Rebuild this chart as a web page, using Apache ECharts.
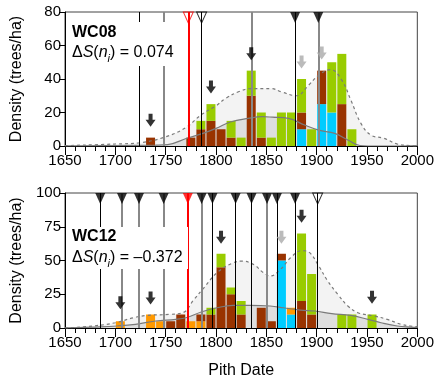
<!DOCTYPE html>
<html><head><meta charset="utf-8">
<script src="https://cdn.jsdelivr.net/npm/echarts@6/dist/echarts.min.js"></script>
<style>html,body{margin:0;padding:0;background:#fff}#c{width:437px;height:381px}</style>
</head><body><div id="c"></div>
<script>
// ---------- DATA ----------
const decades = [1700,1710,1720,1730,1740,1750,1760,1770,1780,1790,1800,1810,1820,1830,1840,1850,1860,1870,1880,1890,1900,1910,1920,1930,1940,1950];
const xTicks = [1650,1700,1750,1800,1850,1900,1950,2000];

// WC08 (top)
const wc08Cyan   = [0,0,0,0,0,0,0,0,0,0,0,0,0,0,0,0,0,0,10,0,25,20,0,0,0,0];
const wc08Orange = [0,0,0,0,0,0,0,0,0,0,0,0,0,0,0,0,0,0,0,0,0,0,0,0,0,0];
const wc08Brown  = [0,0,0,5,0,0,0,5,10,15,10,5,0,30,5,0,0,0,10,0,20,0,25,0,0,0];
const wc08Green  = [0,0,0,0,0,0,0,0,5,10,0,10,5,15,15,5,20,20,20,10,0,30,30,10,0,0];
const wc08DashX = [1650,1700,1725,1750,1770,1785,1800,1810,1823,1835,1855,1865,1880,1892,1902,1914,1925,1934,1944,1954,1967,1980,1993,2000];
const wc08DashY = [0.2,1.2,2.0,5.5,11,18.5,24,28.6,32.5,34.3,34.3,32.3,30,36.3,42.3,45.6,39.3,27.4,13.5,6.5,4.6,1.2,0.2,0];
const wc08SolidX = [1650,1700,1740,1752,1771,1787,1800,1815,1832,1846,1856,1872,1888,1902,1918,1931,1943,1960,2000];
const wc08SolidY = [0,0.3,0.5,0.8,4.6,7.5,10.5,14.5,16.5,17.5,17.2,16.5,12.5,9.5,7.5,3.6,0.3,0,0];
const wc08Events = [1723.6,1748,1772.5,1785.7,1836,1878.6,1901.6];
const wc08EventLine = ['black','grey','red','black','grey','black','grey'];
const wc08EventMark = ['none','none','openRed','open','none','filled','filled'];
const wc08ArrowX = [1735,1795,1835,1885,1905];
const wc08ArrowY = [11.5,31.4,51.2,46.3,51.6];
const wc08ArrowKind = ['black','black','black','grey','grey'];
const wc08Label = 'WC08';
const wc08Stat = '0.074';

// WC12 (bottom)
const wc12Cyan   = [0,0,0,0,0,0,0,0,0,0,0,0,0,0,0,0,50,10,0,0,0,0,0,0,0,0];
const wc12Orange = [5,0,0,10,5,0,0,5,5,0,0,0,0,0,0,0,0,5,0,0,0,0,0,0,0,0];
const wc12Brown  = [0,0,0,0,0,5,10,0,5,10,45,25,10,0,15,5,5,0,20,10,0,0,0,0,0,0];
const wc12Green  = [0,0,0,0,0,0,0,0,0,5,10,5,10,0,0,0,0,0,50,30,0,0,10,10,0,10];
const wc12DashX = [1650,1678,1700,1718,1731,1754,1767,1778,1788,1801,1815,1826,1838,1847,1854,1864,1874,1885,1893,1902,1911,1921,1931,1941,1957,1970,1984,1993,2000];
const wc12DashY = [0,1.5,3.9,7.6,9.3,10.1,11.3,21,29.8,41,47.6,49.6,46.7,41,38.5,43.4,52,57.3,55.8,46,34.8,24.9,16.3,11.3,8.9,6.4,2.7,1.5,1];
const wc12SolidX = [1650,1678,1702,1720,1740,1760,1771,1786,1801,1817,1834,1854,1867,1884,1898,1915,1934,1951,1964,1980,1993,2000];
const wc12SolidY = [0,0.7,1.5,2.7,5.2,6.4,7.8,12,15,16.8,16.8,16.3,15,13.2,12.6,10.6,9.3,6.4,3.9,1.5,0.7,0.5];
const wc12Events = [1685,1706.6,1723.5,1748,1772,1785.7,1796.5,1819.5,1835.3,1850.7,1860.5,1878.6,1901];
const wc12EventLine = ['black','grey','grey','grey','red','grey','black','black','black','grey','black','black','black'];
const wc12EventMark = ['filled','filled','filled','filled','filledRed','filled','filled','filled','filled','filled','filled','filled','open'];
const wc12ArrowX = [1705,1735,1805,1865,1885,1955];
const wc12ArrowY = [13.8,17.5,62.4,62.4,78,18];
const wc12ArrowKind = ['black','black','black','grey','black','black'];
const wc12Label = 'WC12';
const wc12Stat = '\u20130.372';

// ---------- STYLE / BUILD ----------
const FONT = '"Liberation Sans", Arial, sans-serif';
const COL = {cyan:'#00ccff', orange:'#ff9900', brown:'#993300', green:'#99cc00'};
// full decade bins spanning the x range (for the hidden category axis used by the bars)
const allBins = [];
for (let d = xTicks[0]; d < xTicks[xTicks.length-1]; d += 10) allBins.push(String(d));
const panels = [
  {cyan:wc08Cyan, orange:wc08Orange, brown:wc08Brown, green:wc08Green,
   dx:wc08DashX, dy:wc08DashY, sx:wc08SolidX, sy:wc08SolidY,
   ev:wc08Events, evL:wc08EventLine, evM:wc08EventMark,
   ax:wc08ArrowX, ay:wc08ArrowY, ak:wc08ArrowKind, ymax:80, yint:20},
  {cyan:wc12Cyan, orange:wc12Orange, brown:wc12Brown, green:wc12Green,
   dx:wc12DashX, dy:wc12DashY, sx:wc12SolidX, sy:wc12SolidY,
   ev:wc12Events, evL:wc12EventLine, evM:wc12EventMark,
   ax:wc12ArrowX, ay:wc12ArrowY, ak:wc12ArrowKind, ymax:100, yint:25}
];
const grids = [
  {left:65, width:355, top:12, height:134},
  {left:65, width:355, top:193, height:135}
];
const lineStyles = {
  black:{color:'#000', width:1, type:'solid'},
  grey:{color:'#888', width:2, type:'solid'},
  red:{color:'#ff0000', width:2, type:'solid'}
};
const TRI = 'path://M0,0L10,0L5,11Z';
const ARROW = 'path://M3,0L7,0L7,6L10,6L5,13L0,6L3,6Z';

const series = [];
panels.forEach((p, gi) => {
  const zip = (xs, ys) => xs.map((x,i)=>[x, ys[i]]);
  // fills
  series.push({type:'line', xAxisIndex:gi, yAxisIndex:gi, data:zip(p.dx,p.dy), smooth:0.4, symbol:'none',
    lineStyle:{width:0}, areaStyle:{color:'#f3f3f3', opacity:1}, z:1, silent:true});
  series.push({type:'line', xAxisIndex:gi, yAxisIndex:gi, data:zip(p.sx,p.sy), smooth:0.4, symbol:'none',
    lineStyle:{width:0}, areaStyle:{color:'#dedede', opacity:1}, z:1, silent:true});
  // bars (on hidden category axis index gi+2)
  ['cyan','orange','brown','green'].forEach(k => {
    const vals = allBins.map(b => { const i = decades.indexOf(+b); return i < 0 ? 0 : p[k][i]; });
    series.push({type:'bar', xAxisIndex:gi+2, yAxisIndex:gi, stack:'s'+gi, barWidth:9,
      data: vals, itemStyle:{color:COL[k]}, z:2});
  });
  // curves
  series.push({type:'line', xAxisIndex:gi, yAxisIndex:gi, data:zip(p.dx,p.dy), smooth:0.4, symbol:'none',
    lineStyle:{width:1.2, color:'#7a7a7a', type:[3,3]}, z:3});
  series.push({type:'line', xAxisIndex:gi, yAxisIndex:gi, data:zip(p.sx,p.sy), smooth:0.4, symbol:'none',
    lineStyle:{width:1.2, color:'#7a7a7a'}, z:3});
  // event lines
  series.push({type:'scatter', xAxisIndex:gi, yAxisIndex:gi, data:[], z:4, silent:true,
    markLine:{silent:true, symbol:['none','none'], label:{show:false}, animation:false,
      data:p.ev.map((x,i)=>({xAxis:x, lineStyle:lineStyles[p.evL[i]]}))}});
  // triangles
  const tri = [];
  p.ev.forEach((x,i)=>{
    const m = p.evM[i];
    if (m === 'none') return;
    let st;
    if (m === 'filled') st = {color:'#000', borderWidth:0};
    else if (m === 'filledRed') st = {color:'#ff0000', borderWidth:0};
    else if (m === 'open') st = {color:'rgba(0,0,0,0)', borderColor:'#000', borderWidth:1};
    else st = {color:'rgba(0,0,0,0)', borderColor:'#ff0000', borderWidth:1};
    tri.push({value:[x, p.ymax], itemStyle:st});
  });
  series.push({type:'scatter', xAxisIndex:gi, yAxisIndex:gi, data:tri, symbol:TRI, symbolSize:[10,11],
    symbolOffset:[0,'50%'], z:5, silent:true, clip:false});
  // arrows
  series.push({type:'scatter', xAxisIndex:gi, yAxisIndex:gi, symbol:ARROW, symbolSize:[10,13],
    symbolOffset:[0,'-50%'], z:5, silent:true,
    data:p.ax.map((x,i)=>({value:[x,p.ay[i]], itemStyle:{color: p.ak[i]==='grey' ? '#aaaaaa' : '#000'}}))});
});

const xAxes = grids.map((g,gi)=>({
  type:'value', gridIndex:gi, min:xTicks[0], max:xTicks[xTicks.length-1], interval:50,
  axisLine:{show:true, onZero:false, lineStyle:{color:'#000', width:1}},
  axisTick:{show:true, length:9, lineStyle:{color:'#000'}},
  minorTick:{show:true, splitNumber:5, length:5, lineStyle:{color:'#000'}},
  splitLine:{show:false},
  axisLabel:{fontSize:15, color:'#000', fontFamily:FONT, margin:7, formatter: v => String(v)},
  name: gi===1 ? 'Pith Date' : '', nameLocation:'middle', nameGap:35,
  nameTextStyle:{fontSize:16, color:'#000', fontFamily:FONT}
}));
grids.forEach((g,gi)=>{
  xAxes.push({type:'category', gridIndex:gi, data:allBins, boundaryGap:true, show:false});
});
const yAxes = panels.map((p,gi)=>({
  type:'value', gridIndex:gi, min:0, max:p.ymax, interval:p.yint,
  axisLine:{show:true, lineStyle:{color:'#000', width:1}},
  axisTick:{show:true, length:6, lineStyle:{color:'#000'}},
  splitLine:{show:false},
  axisLabel:{fontSize:15, color:'#000', fontFamily:FONT, margin:4},
  name:'Density (trees/ha)', nameLocation:'middle', nameGap:40,
  nameTextStyle:{fontSize:16, color:'#000', fontFamily:FONT}
}));

const rich = {
  n:{fontSize:16, fontFamily:FONT, color:'#000', lineHeight:20, verticalAlign:'bottom'},
  it:{fontSize:16, fontFamily:FONT, fontStyle:'italic', color:'#000', lineHeight:20, verticalAlign:'bottom'},
  sub:{fontSize:11, fontFamily:FONT, fontStyle:'italic', color:'#000', lineHeight:14, verticalAlign:'bottom', padding:[0,0,-3,0]}
};
const statText = v => '{n|\u0394}{it|S}{n|(}{it|n}{sub|i}{n|) = ' + v + '}';
const graphic = [
  {type:'rect', left:70, top:22, shape:{width:110, height:44}, style:{fill:'#fff'}, z:50},
  {type:'text', left:72, top:25, style:{text:wc08Label, font:'bold 16px '+FONT, fill:'#000'}, z:51},
  {type:'text', left:72, top:45, style:{text:statText(wc08Stat), rich:rich}, z:51},
  {type:'rect', left:70, top:227, shape:{width:118, height:42}, style:{fill:'#fff'}, z:50},
  {type:'text', left:72, top:229, style:{text:wc12Label, font:'bold 16px '+FONT, fill:'#000'}, z:51},
  {type:'text', left:72, top:250, style:{text:statText(wc12Stat), rich:rich}, z:51}
];

const chart = echarts.init(document.getElementById('c'), null, {renderer:'canvas'});
chart.setOption({
  animation:false,
  grid: grids.map(g=>Object.assign({show:true, borderColor:'#444', borderWidth:1, backgroundColor:'transparent'}, g)),
  xAxis:xAxes, yAxis:yAxes, series:series, graphic:graphic
});
</script>
</body></html>
